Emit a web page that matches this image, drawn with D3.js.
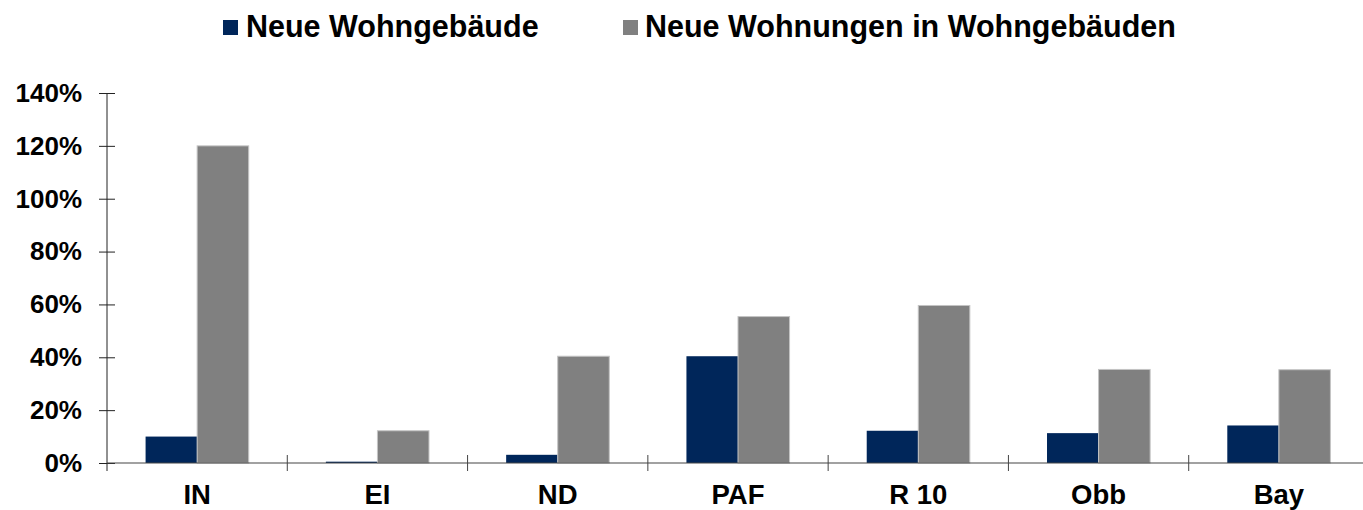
<!DOCTYPE html>
<html>
<head>
<meta charset="utf-8">
<script src="https://cdn.jsdelivr.net/npm/d3@7/dist/d3.min.js"></script>
<style>
  html, body { margin: 0; padding: 0; background: #fff; }
  svg { display: block; font-family: "Liberation Sans", Arial, sans-serif; }
</style>
</head>
<body>
<svg id="chart" width="1363" height="510"></svg>
<script>
const categories = ["IN", "EI", "ND", "PAF", "R 10", "Obb", "Bay"];
const seriesNames = ["Neue Wohngebäude", "Neue Wohnungen in Wohngebäuden"];
const gebaeude = [10.0, 0.5, 3.1, 40.4, 12.2, 11.3, 14.2];
const wohnungen = [120.0, 12.2, 40.4, 55.4, 59.6, 35.4, 35.3];
const yTicks = [0, 20, 40, 60, 80, 100, 120, 140];
const colors = ["#00265A", "#808080"];

(function () {
const svg = d3.select("#chart");
const mLeft = 107, mRight = 1369, mTop = 93, mBottom = 463;

const x0 = d3.scaleBand().domain(categories).range([mLeft, mRight]).padding(0);
const bw = x0.bandwidth();
const x1 = d3.scaleBand().domain(seriesNames).range([bw * 0.214, bw * 0.786]).padding(0);
const y = d3.scaleLinear().domain([0, 140]).range([mBottom, mTop]);

const rows = categories.map((c, i) => ({ cat: c, vals: [gebaeude[i], wohnungen[i]] }));

// bars
const g = svg.append("g");
rows.forEach(r => {
  r.vals.forEach((v, si) => {
    g.append("rect")
      .attr("x", x0(r.cat) + x1(seriesNames[si]))
      .attr("y", y(v))
      .attr("width", x1.bandwidth())
      .attr("height", y(0) - y(v))
      .attr("fill", colors[si])
      .attr("stroke", si === 1 ? "#c4c4c4" : "none")
      .attr("stroke-width", 1);
  });
});

// y axis
const yAxis = svg.append("g")
  .attr("transform", `translate(${mLeft},0)`)
  .call(d3.axisLeft(y).tickValues(yTicks).tickSize(8).tickPadding(17).tickFormat(d => d + "%"));
yAxis.select(".domain").remove();
yAxis.selectAll(".tick line").attr("x1", -8).attr("x2", 8).attr("stroke", "#222");
yAxis.selectAll(".tick text")
  .attr("font-size", 26).attr("font-weight", "bold").attr("fill", "#000")
  .attr("font-family", "'Liberation Sans', Arial, sans-serif");
svg.append("line").attr("x1", mLeft).attr("x2", mLeft).attr("y1", mTop).attr("y2", mBottom + 8)
  .attr("stroke", "#222").attr("stroke-width", 1);

// x axis
const xAxis = svg.append("g")
  .attr("transform", `translate(0,${mBottom})`)
  .call(d3.axisBottom(x0).tickSize(0).tickPadding(21));
xAxis.select(".domain").remove();
xAxis.selectAll(".tick text")
  .attr("font-size", 27.5).attr("font-weight", "bold").attr("fill", "#000")
  .attr("font-family", "'Liberation Sans', Arial, sans-serif");
svg.append("line").attr("x1", mLeft).attr("x2", mRight).attr("y1", mBottom).attr("y2", mBottom)
  .attr("stroke", "#444").attr("stroke-width", 1.2);
const boundaries = categories.slice(1).map(c => x0(c)).concat([mRight]);
svg.append("g").selectAll("line").data(boundaries).join("line")
  .attr("x1", d => d).attr("x2", d => d)
  .attr("y1", mBottom - 8).attr("y2", mBottom + 8)
  .attr("stroke", "#444").attr("stroke-width", 1);

// legend
const legendPos = [{ sx: 223, tx: 246 }, { sx: 623, tx: 645 }];
seriesNames.forEach((name, i) => {
  svg.append("rect").attr("x", legendPos[i].sx).attr("y", 20).attr("width", 15).attr("height", 15)
    .attr("fill", colors[i]);
  svg.append("text").attr("x", legendPos[i].tx).attr("y", 36.5)
    .attr("font-size", 30.5).attr("font-weight", "bold").attr("fill", "#000")
    .text(name);
});
})();
</script>
</body>
</html>
